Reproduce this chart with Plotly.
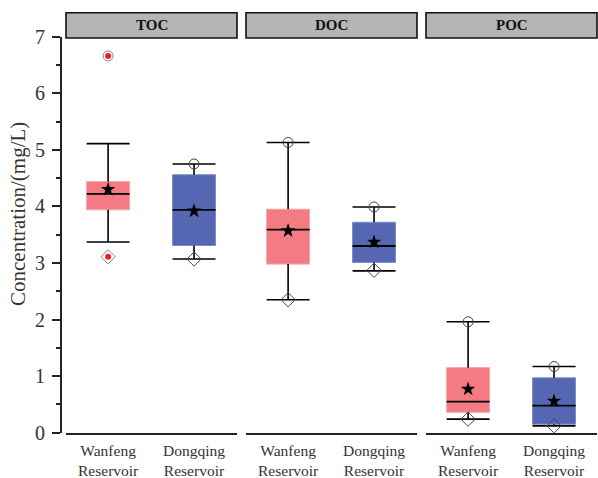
import plotly.graph_objects as go

W, H = 598, 478

panels = ["TOC", "DOC", "POC"]
groups = ["Wanfeng<br>Reservoir", "Dongqing<br>Reservoir"]
colors = ["#F47B83", "#5567B2"]
edge_colors = ["#F7A3A8", "#7D8CC6"]

# values per panel: [Wanfeng, Dongqing]
q1 = {"TOC": [3.94, 3.31], "DOC": [2.98, 3.01], "POC": [0.36, 0.15]}
q3 = {"TOC": [4.44, 4.56], "DOC": [3.95, 3.72], "POC": [1.15, 0.97]}
median = {"TOC": [4.22, 3.94], "DOC": [3.59, 3.30], "POC": [0.55, 0.48]}
mean = {"TOC": [4.30, 3.92], "DOC": [3.57, 3.37], "POC": [0.77, 0.56]}
whisk_hi = {"TOC": [5.11, 4.75], "DOC": [5.13, 3.99], "POC": [1.96, 1.17]}
whisk_lo = {"TOC": [3.37, 3.07], "DOC": [2.35, 2.86], "POC": [0.24, 0.12]}
maxv = {"TOC": [6.66, 4.75], "DOC": [5.13, 3.99], "POC": [1.96, 1.17]}
minv = {"TOC": [3.11, 3.07], "DOC": [2.35, 2.87], "POC": [0.24, 0.12]}

yticks = [0, 1, 2, 3, 4, 5, 6, 7]

font_serif = "Liberation Serif, Times New Roman, serif"
box_w = 0.5
half = box_w / 2

px_dom = [(66, 237), (246, 417), (426, 597)]
x_domains = [(a / W, b / W) for a, b in px_dom]
y_dom = (1 - 432.7 / H, 1 - 36.7 / H)

fig = go.Figure()

for pi, p in enumerate(panels):
    xa = "x" if pi == 0 else f"x{pi+1}"
    for gi in range(2):
        xc = gi
        # box body
        fig.add_trace(go.Bar(
            x=[xc], base=[q1[p][gi]], y=[q3[p][gi] - q1[p][gi]], width=box_w,
            marker=dict(color=colors[gi], line=dict(color=edge_colors[gi], width=1)),
            xaxis=xa, yaxis="y", showlegend=False, hoverinfo="skip"))
        # whiskers
        wx = [xc, xc, None, xc, xc, None,
              xc - half, xc + half, None, xc - half, xc + half]
        wy = [whisk_hi[p][gi], q3[p][gi], None, q1[p][gi], whisk_lo[p][gi], None,
              whisk_hi[p][gi], whisk_hi[p][gi], None, whisk_lo[p][gi], whisk_lo[p][gi]]
        fig.add_trace(go.Scatter(
            x=wx, y=wy, mode="lines", line=dict(color="black", width=1.6),
            xaxis=xa, yaxis="y", showlegend=False, hoverinfo="skip"))
        # median
        fig.add_trace(go.Scatter(
            x=[xc - half, xc + half], y=[median[p][gi]] * 2, mode="lines",
            line=dict(color="black", width=1.8),
            xaxis=xa, yaxis="y", showlegend=False, hoverinfo="skip"))
        # max / min markers (open), outliers get a red dot inside
        hi_out = maxv[p][gi] > whisk_hi[p][gi]
        lo_out = minv[p][gi] < whisk_lo[p][gi]
        fig.add_trace(go.Scatter(
            x=[xc], y=[maxv[p][gi]], mode="markers",
            marker=dict(symbol="circle-open", size=10,
                        color="#888888" if hi_out else "#444444",
                        line=dict(width=1)),
            xaxis=xa, yaxis="y", showlegend=False, hoverinfo="skip"))
        fig.add_trace(go.Scatter(
            x=[xc], y=[minv[p][gi]], mode="markers",
            marker=dict(symbol="diamond-open", size=11,
                        color="#888888" if lo_out else "#444444",
                        line=dict(width=1)),
            xaxis=xa, yaxis="y", showlegend=False, hoverinfo="skip"))
        out_y = ([maxv[p][gi]] if hi_out else []) + ([minv[p][gi]] if lo_out else [])
        if out_y:
            fig.add_trace(go.Scatter(
                x=[xc] * len(out_y), y=out_y, mode="markers",
                marker=dict(symbol="circle", size=6, color="#EE1C25"),
                xaxis=xa, yaxis="y", showlegend=False, hoverinfo="skip"))
        # mean star
        fig.add_trace(go.Scatter(
            x=[xc], y=[mean[p][gi]], mode="markers",
            marker=dict(symbol="star", size=11, color="black"),
            xaxis=xa, yaxis="y", showlegend=False, hoverinfo="skip"))

layout = dict(
    width=W, height=H,
    margin=dict(l=0, r=0, t=0, b=0),
    paper_bgcolor="white", plot_bgcolor="white",
    barmode="overlay",
    font=dict(family=font_serif, color="#222222"),
    yaxis=dict(
        domain=list(y_dom), range=[0, 7], anchor="free", position=61 / W,
        tickvals=yticks, ticks="outside", ticklen=8, tickwidth=1.5, tickcolor="#222",
        minor=dict(dtick=0.5, ticks="outside", ticklen=4, tickwidth=1.5, tickcolor="#222"),
        showline=True, linecolor="#222", linewidth=2, showgrid=False, zeroline=False,
        tickfont=dict(size=20, family=font_serif, color="#333"),
        ticklabelstandoff=3, automargin=False),
    shapes=[], annotations=[],
)

for pi in range(3):
    key = "xaxis" if pi == 0 else f"xaxis{pi+1}"
    xref = "x" if pi == 0 else f"x{pi+1}"
    layout[key] = dict(
        domain=list(x_domains[pi]), range=[-0.49, 1.5], anchor="y",
        showticklabels=False, ticks="",
        showline=True, linecolor="#222", linewidth=2, showgrid=False, zeroline=False,
        automargin=False, fixedrange=True)
    x0, x1 = x_domains[pi]
    layout["shapes"].append(dict(
        type="rect", xref="paper", yref="paper",
        x0=x0, x1=x1, y0=1 - 38 / H, y1=1 - 12.7 / H,
        fillcolor="#B5B5B5", line=dict(color="#111", width=1.6)))
    layout["annotations"].append(dict(
        text=f"<b>{panels[pi]}</b>", xref="paper", yref="paper",
        x=(x0 + x1) / 2, y=1 - 25.3 / H, showarrow=False,
        xanchor="center", yanchor="middle",
        font=dict(size=15, family=font_serif, color="#111")))
    # category labels (two lines)
    for gi in range(2):
        layout["annotations"].append(dict(
            text=groups[gi], xref=xref, yref="paper", x=gi, y=1 - 440 / H,
            showarrow=False, xanchor="center", yanchor="top",
            font=dict(size=15.5, family=font_serif, color="#333")))

layout["annotations"].append(dict(
    text="Concentration/(mg/L)", xref="paper", yref="paper",
    x=18 / W, y=1 - 214 / H, textangle=-90, showarrow=False,
    xanchor="center", yanchor="middle",
    font=dict(size=21, family=font_serif, color="#333")))

fig.update_layout(**layout)
fig.write_html("out.html", config={"displayModeBar": False},
               post_script="document.body.style.margin='0';document.body.style.overflow='hidden';")
